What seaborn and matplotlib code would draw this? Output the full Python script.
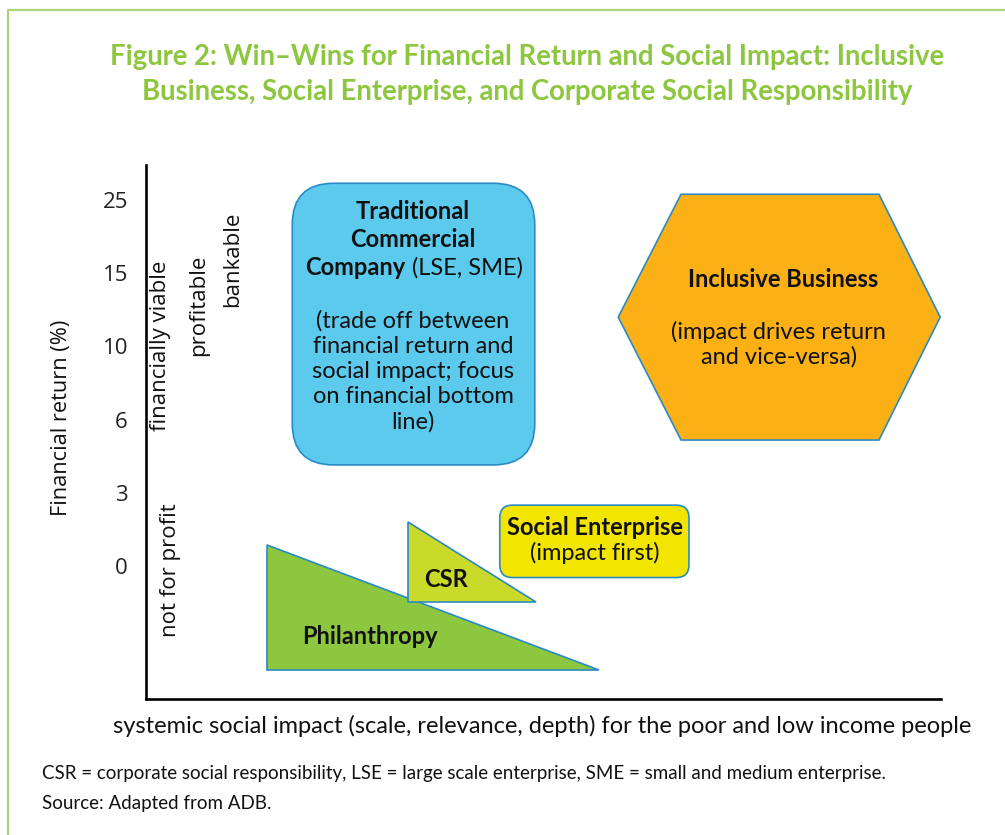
import matplotlib
matplotlib.use("Agg")
import matplotlib.pyplot as plt
from matplotlib.patches import Polygon, FancyBboxPatch
from matplotlib.lines import Line2D
import seaborn as sns

# ---------------- data ----------------
ytick_values = [0, 1, 2, 3, 4, 5]
ytick_labels = ["0", "3", "6", "10", "15", "25"]

# shapes in (impact 0-100, return level) units
tcc_box = [18.4, 1.38, 48.9, 5.23]          # x0, y0, x1, y1
se_box = [44.5, -0.16, 68.3, 0.83]
hex_x = [59.4, 67.3, 92.2, 99.9, 92.2, 67.3]
hex_y = [3.40, 5.08, 5.08, 3.40, 1.72, 1.72]
csr_x = [33.0, 33.0, 49.1]
csr_y = [0.60, -0.49, -0.49]
phil_x = [15.2, 15.2, 57.0]
phil_y = [0.29, -1.42, -1.42]

title = ("Figure 2: Win\u2013Wins for Financial Return and Social Impact: Inclusive\n"
         "Business, Social Enterprise, and Corporate Social Responsibility")
xlabel = "systemic social impact (scale, relevance, depth) for the poor and low income people"
ylabel = "Financial return (%)"
note1 = "CSR = corporate social responsibility, LSE = large scale enterprise, SME = small and medium enterprise."
note2 = "Source: Adapted from ADB."

# ---------------- style ----------------
sns.set_theme(style="white")
plt.rcParams["font.family"] = ["Lato", "DejaVu Sans"]

W, H = 1005, 835
fig = plt.figure(figsize=(W / 100, H / 100), dpi=100)

def fx(px):
    return px / W

def fy(py):
    return 1 - py / H

# axes box in pixels: x 146..941, y 165..699
ax = fig.add_axes([fx(146), fy(699), fx(941) - fx(146), fy(165) - fy(699)])
ax.set_xlim(0, 100)
ax.set_ylim(-1.82, 5.48)
sns.despine(ax=ax, top=True, right=True)
for s in ["left", "bottom"]:
    ax.spines[s].set_color("black")
    ax.spines[s].set_linewidth(1.9)
ax.set_xticks([])
ax.set_yticks(ytick_values)
ax.set_yticklabels(ytick_labels, fontsize=16, family=["Open Sans", "DejaVu Sans"], color="#222222")
ax.tick_params(axis="y", length=0, pad=13)
ax.set_facecolor("white")

edge = "#2a8bc4"
lw = 1.2

px_per_x = 795 / 100
px_per_y = 534 / 7.30
aspect = px_per_x / px_per_y
tcc = FancyBboxPatch((tcc_box[0], tcc_box[1]), tcc_box[2] - tcc_box[0], tcc_box[3] - tcc_box[1],
                     boxstyle="round,pad=0,rounding_size=5.2", mutation_aspect=aspect,
                     facecolor="#5ccaed", edgecolor=edge, linewidth=lw, zorder=2)
ax.add_patch(tcc)

se = FancyBboxPatch((se_box[0], se_box[1]), se_box[2] - se_box[0], se_box[3] - se_box[1],
                    boxstyle="round,pad=0,rounding_size=1.6", mutation_aspect=aspect,
                    facecolor="#f2e500", edgecolor=edge, linewidth=lw, zorder=2)
ax.add_patch(se)

ax.add_patch(Polygon(list(zip(hex_x, hex_y)), closed=True, facecolor="#fbb116",
                     edgecolor=edge, linewidth=lw, zorder=2))
ax.add_patch(Polygon(list(zip(phil_x, phil_y)), closed=True, facecolor="#8dc63f",
                     edgecolor=edge, linewidth=lw, zorder=2))
ax.add_patch(Polygon(list(zip(csr_x, csr_y)), closed=True, facecolor="#c9da2b",
                     edgecolor=edge, linewidth=lw, zorder=3))

tc = "#111111"
fs = 17
ax.text(33.6, 4.84, "Traditional", ha="center", va="center", fontsize=fs, weight="bold", color=tc, zorder=5)
ax.text(33.6, 4.46, "Commercial", ha="center", va="center", fontsize=fs, weight="bold", color=tc, zorder=5)
ax.text(32.6, 4.08, "Company", ha="right", va="center", fontsize=fs, weight="bold", color=tc, zorder=5)
ax.text(33.4, 4.08, "(LSE, SME)", ha="left", va="center", fontsize=fs, color=tc, zorder=5)
ax.text(33.6, 2.66, "(trade off between\nfinancial return and\nsocial impact; focus\non financial bottom\nline)",
        ha="center", va="center", fontsize=fs, color=tc, linespacing=1.24, zorder=5)

ax.text(80.1, 3.92, "Inclusive Business", ha="center", va="center", fontsize=fs, weight="bold", color=tc, zorder=5)
ax.text(79.6, 3.03, "(impact drives return\nand vice-versa)", ha="center", va="center",
        fontsize=fs, color=tc, linespacing=1.2, zorder=5)

ax.text(56.5, 0.52, "Social Enterprise", ha="center", va="center", fontsize=fs, weight="bold", color=tc, zorder=5)
ax.text(56.4, 0.17, "(impact first)", ha="center", va="center", fontsize=fs, color=tc, zorder=5)

ax.text(37.7, -0.19, "CSR", ha="center", va="center", fontsize=fs, weight="bold", color=tc, zorder=5)
ax.text(28.2, -0.96, "Philanthropy", ha="center", va="center", fontsize=fs, weight="bold", color=tc, zorder=5)

# rotated qualitative labels
of = ["Open Sans", "DejaVu Sans"]
fig.text(fx(160), fy(346), "financially viable", rotation=90, ha="center", va="center", fontsize=16, family=of, color=tc)
fig.text(fx(199), fy(305), "profitable", rotation=90, ha="center", va="center", fontsize=16, family=of, color=tc)
fig.text(fx(233), fy(259), "bankable", rotation=90, ha="center", va="center", fontsize=16, family=of, color=tc)
fig.text(fx(170), fy(570), "not for profit", rotation=90, ha="center", va="center", fontsize=16, family=of, color=tc)

fig.text(fx(62), fy(418), ylabel, rotation=90, ha="center", va="center", fontsize=15.7, family=of, color=tc)
fig.text(fx(542), fy(726), xlabel, ha="center", va="center", fontsize=17, color=tc)

fig.text(fx(42), fy(773), note1, ha="left", va="center", fontsize=13.5, color=tc)
fig.text(fx(42), fy(803), note2, ha="left", va="center", fontsize=13.5, color=tc)

fig.text(fx(527), fy(74.5), title, ha="center", va="center", fontsize=19.8, weight="bold",
         color="#8dc63f", linespacing=1.45)

# frame lines (top and left)
fig.add_artist(Line2D([fx(7.5), 1.0], [fy(9.5), fy(9.5)], color="#acd57a", linewidth=1.6))
fig.add_artist(Line2D([fx(7.5), fx(7.5)], [fy(9.5), 0.0], color="#acd57a", linewidth=1.6))

fig.savefig("out.png", dpi=100, facecolor="white")
